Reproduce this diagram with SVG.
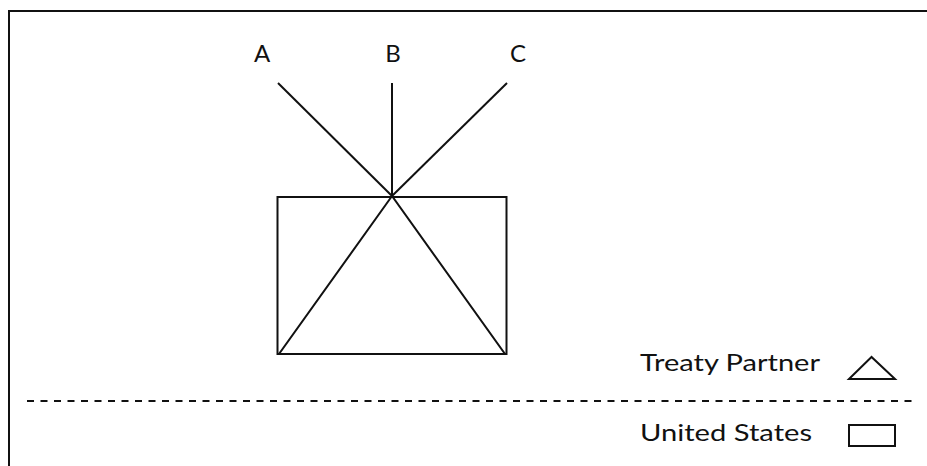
<svg xmlns="http://www.w3.org/2000/svg" width="927" height="466" viewBox="0 0 927 466">
<style>
.ln{stroke:#111;stroke-width:2;fill:none}
.lbl{font-family:Lato,"Open Sans","Liberation Sans",sans-serif;font-size:24px;fill:#111}
</style>
<rect width="927" height="466" fill="#fff"/>
<g id="frame">
<path class="ln" d="M9,466 V11 H927"/>
</g>
<g id="connectors">
<line class="ln" x1="278" y1="83" x2="392" y2="196"/>
<line class="ln" x1="392" y1="83" x2="392" y2="196"/>
<line class="ln" x1="507" y1="83" x2="392" y2="196"/>
</g>
<g id="labelA"><text class="lbl" x="262" y="62" text-anchor="middle">A</text></g>
<g id="labelB"><text class="lbl" x="393" y="62" text-anchor="middle">B</text></g>
<g id="labelC"><text class="lbl" x="518" y="62" text-anchor="middle">C</text></g>
<g id="usBox"><rect class="ln" x="277.5" y="197" width="229" height="157"/></g>
<g id="partnerTriangle"><polygon class="ln" points="392,196 279,354 505,354"/></g>
<g id="divider"><line x1="27" y1="401" x2="915" y2="401" stroke="#111" stroke-width="2" stroke-dasharray="7,6.5"/></g>
<g id="legendPartner">
<text class="lbl" x="640" y="371" textLength="180" lengthAdjust="spacingAndGlyphs">Treaty Partner</text>
<polygon class="ln" points="871.5,357 849,379 895,379"/>
</g>
<g id="legendUS">
<text class="lbl" x="640" y="441" textLength="172" lengthAdjust="spacingAndGlyphs">United States</text>
<rect class="ln" x="849" y="425" width="46" height="21" stroke-width="1.6"/>
</g>
</svg>
